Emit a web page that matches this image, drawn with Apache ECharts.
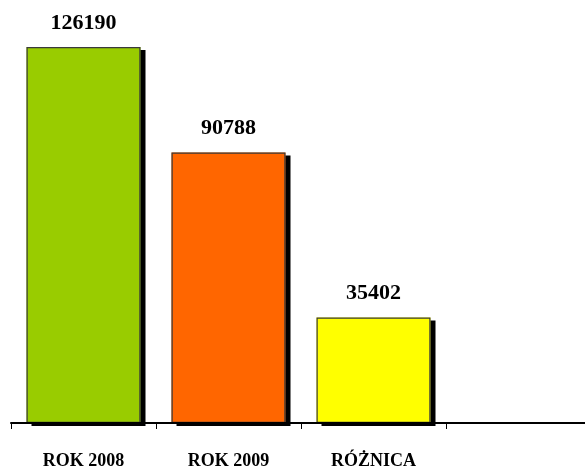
<!DOCTYPE html>
<html>
<head>
<meta charset="utf-8">
<script src="https://cdn.jsdelivr.net/npm/echarts@6/dist/echarts.min.js"></script>
<style>
html,body{margin:0;padding:0;background:#fff;}
#c{width:585px;height:470px;}
</style>
</head>
<body>
<div id="c"></div>
<script>
var categories = ['ROK 2008', 'ROK 2009', 'RÓŻNICA', ''];
var values = [126190, 90788, 35402, null];
var colors = ['#99CC00', '#FF6600', '#FFFF00', '#FFFFFF'];

var chart = echarts.init(document.getElementById('c'), null, {renderer: 'canvas'});
var fillData = values.map(function (v, i) {
  return {value: v == null ? '-' : v, itemStyle: {color: colors[i]}};
});
var edgeData = values.map(function (v) {
  return v == null ? '-' : v;
});
chart.setOption({
  animation: false,
  backgroundColor: '#ffffff',
  grid: {left: 11, width: 580, top: 0, bottom: 47, outerBoundsMode: 'none', containLabel: false},
  xAxis: {
    type: 'category',
    data: categories,
    boundaryGap: true,
    z: 10,
    axisLine: {show: true, lineStyle: {color: '#000', width: 2}},
    axisTick: {show: true, length: 6, lineStyle: {color: '#000', width: 1}},
    axisLabel: {
      interval: 0,
      margin: 29,
      color: '#000',
      fontFamily: 'Liberation Serif',
      fontWeight: 'bold',
      fontSize: 18
    }
  },
  yAxis: {
    type: 'value',
    min: 0,
    max: 142000,
    show: false,
    splitLine: {show: false}
  },
  series: [{
    type: 'bar',
    data: fillData,
    barWidth: 114,
    itemStyle: {
      borderWidth: 0,
      shadowColor: '#000',
      shadowBlur: 0,
      shadowOffsetX: 5,
      shadowOffsetY: 3
    }
  }, {
    type: 'bar',
    data: edgeData,
    barWidth: 114,
    barGap: '-100%',
    itemStyle: {
      color: 'rgba(0,0,0,0)',
      borderColor: '#3a3a3a',
      borderWidth: 1.2
    },
    label: {
      show: true,
      position: 'top',
      distance: 13,
      color: '#000',
      fontFamily: 'Liberation Serif',
      fontWeight: 'bold',
      fontSize: 22
    }
  }]
});
</script>
</body>
</html>
